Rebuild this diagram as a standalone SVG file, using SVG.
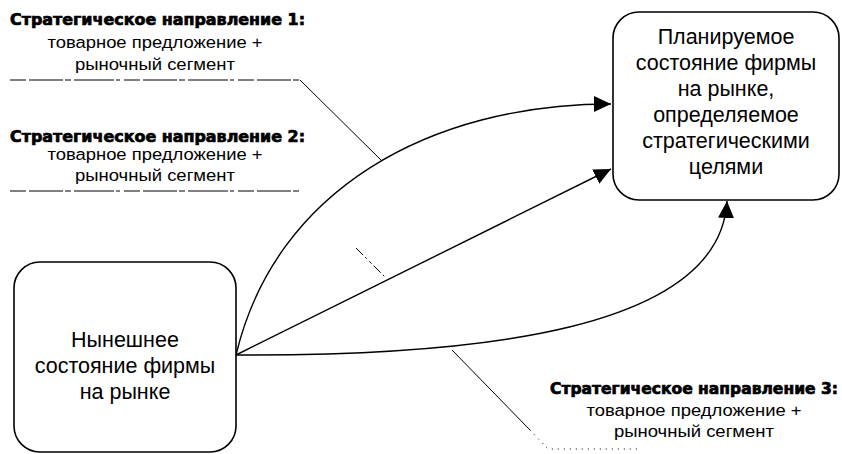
<svg xmlns="http://www.w3.org/2000/svg" width="842" height="454" viewBox="0 0 842 454">
<style>
.box{fill:#fff;stroke:#000;stroke-width:1.6}
.nt{font-family:"Liberation Sans",Arial,sans-serif;font-size:21.5px;fill:#000;text-anchor:middle}
.hd{font-family:"DejaVu Sans","Liberation Sans",sans-serif;font-weight:bold;font-size:15px;fill:#000;stroke:#000;stroke-width:0.7}
.lb{font-family:"Liberation Sans",Arial,sans-serif;font-size:16px;fill:#000;text-anchor:middle}
.arr{fill:none;stroke:#000;stroke-width:1.4}
.ld{fill:none;stroke:#000;stroke-width:1}
.dash{fill:none;stroke:#000;stroke-width:1;stroke-dasharray:16 3 34 2 6 3 40 2 4 4}
.dot{fill:none;stroke:#000;stroke-width:1;stroke-dasharray:1 5}
</style>
<defs>
<marker id="ah" markerUnits="userSpaceOnUse" markerWidth="18" markerHeight="16" refX="17" refY="8" orient="auto">
<path d="M0,0 L17,8 L0,16 z" fill="#000"/>
</marker>
</defs>
<rect width="842" height="454" fill="#fff"/>

<g id="connectors">
<path class="arr" d="M236,355 C275,190 430,104 611,104" marker-end="url(#ah)"/>
<path class="arr" d="M236,355 L611,169" marker-end="url(#ah)"/>
<path class="arr" d="M236,355 C480,356 720,330 727,201" marker-end="url(#ah)"/>
</g>

<g id="label1">
<text class="hd" x="10" y="25" textLength="295" lengthAdjust="spacingAndGlyphs">Стратегическое направление 1:</text>
<text class="lb" x="155" y="48" textLength="215" lengthAdjust="spacingAndGlyphs">товарное предложение +</text>
<text class="lb" x="155" y="70" textLength="160" lengthAdjust="spacingAndGlyphs">рыночный сегмент</text>
<path class="dash" d="M10,80 H300"/>
<path class="ld" d="M300,80 L382,161"/>
</g>

<g id="label2">
<text class="hd" x="10" y="142" textLength="295" lengthAdjust="spacingAndGlyphs">Стратегическое направление 2:</text>
<text class="lb" x="155" y="160" textLength="215" lengthAdjust="spacingAndGlyphs">товарное предложение +</text>
<text class="lb" x="155" y="181" textLength="160" lengthAdjust="spacingAndGlyphs">рыночный сегмент</text>
<path class="dash" d="M10,191 H300"/>
<path class="ld" d="M356,248 L386,278" stroke-dasharray="10 3 2 4 3 3"/>
</g>

<g id="label3">
<text class="hd" x="550" y="394" textLength="288" lengthAdjust="spacingAndGlyphs">Стратегическое направление 3:</text>
<text class="lb" x="694" y="416" textLength="215" lengthAdjust="spacingAndGlyphs">товарное предложение +</text>
<text class="lb" x="694" y="437" textLength="160" lengthAdjust="spacingAndGlyphs">рыночный сегмент</text>
<path class="ld" d="M452,350 L530,430"/>
<path class="dot" d="M530,430 L548,449 H640"/>
</g>

<g id="node-current">
<rect class="box" x="14" y="262" width="222" height="190" rx="26" ry="26"/>
<text class="nt" x="125" y="347">Нынешнее</text>
<text class="nt" x="125" y="373">состояние фирмы</text>
<text class="nt" x="125" y="399">на рынке</text>
</g>

<g id="node-planned">
<rect class="box" x="613" y="12" width="226" height="188" rx="26" ry="26"/>
<text class="nt" x="726" y="44">Планируемое</text>
<text class="nt" x="726" y="70">состояние фирмы</text>
<text class="nt" x="726" y="96">на рынке,</text>
<text class="nt" x="726" y="122">определяемое</text>
<text class="nt" x="726" y="148">стратегическими</text>
<text class="nt" x="726" y="174">целями</text>
</g>
</svg>
